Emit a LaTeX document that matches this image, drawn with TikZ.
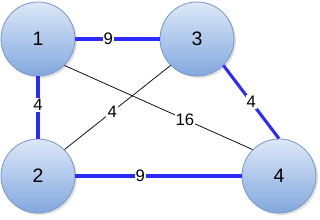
\documentclass[tikz,border=0pt]{standalone}
\usepackage{fontspec}
\setmainfont{Liberation Sans}
\usetikzlibrary{shadows}
\definecolor{ntop}{HTML}{DDE8F9}
\definecolor{nbot}{HTML}{82A8DE}
\definecolor{nrim}{HTML}{7896C8}
\definecolor{eblue}{HTML}{2B2BFF}
\tikzset{
  vtx/.style={circle,minimum size=55.5pt,inner sep=0pt,draw=nrim,line width=.6pt,top color=ntop,bottom color=nbot,drop shadow={shadow xshift=1.5pt,shadow yshift=-1.5pt,opacity=.25},font=\fontsize{14.6}{16}\selectfont},
  heavy/.style={draw=eblue,line width=2.3pt},
  light/.style={draw=black,line width=.55pt},
  wt/.style={fill=white,inner sep=.8pt,font=\fontsize{12.5}{14}\selectfont}
}
\begin{document}
\begin{tikzpicture}[x=.75pt,y=-.75pt]
\useasboundingbox[fill=white](0,0)rectangle(320,219);
\node[vtx](v1)at(38,39){1};\node[vtx](v3)at(197,39){3};\node[vtx](v2)at(38,176){2};\node[vtx](v4)at(279,176){4};
\draw[heavy](v1.east)--node[wt,pos=.39]{9}(v3.west);
\draw[heavy](v1.south)--node[wt,pos=.46]{4}(v2.north);
\draw[heavy](v3.-45)--node[wt,pos=.5]{4}(v4.north);
\draw[heavy](v2.east)--node[wt,pos=.39]{9}(v4.west);
\draw[light](v2.45)--node[wt,pos=.45]{4}(v3.225);
\draw[light](v1.-45)--node[wt,pos=.64]{16}(v4.135);
\end{tikzpicture}
\end{document}
